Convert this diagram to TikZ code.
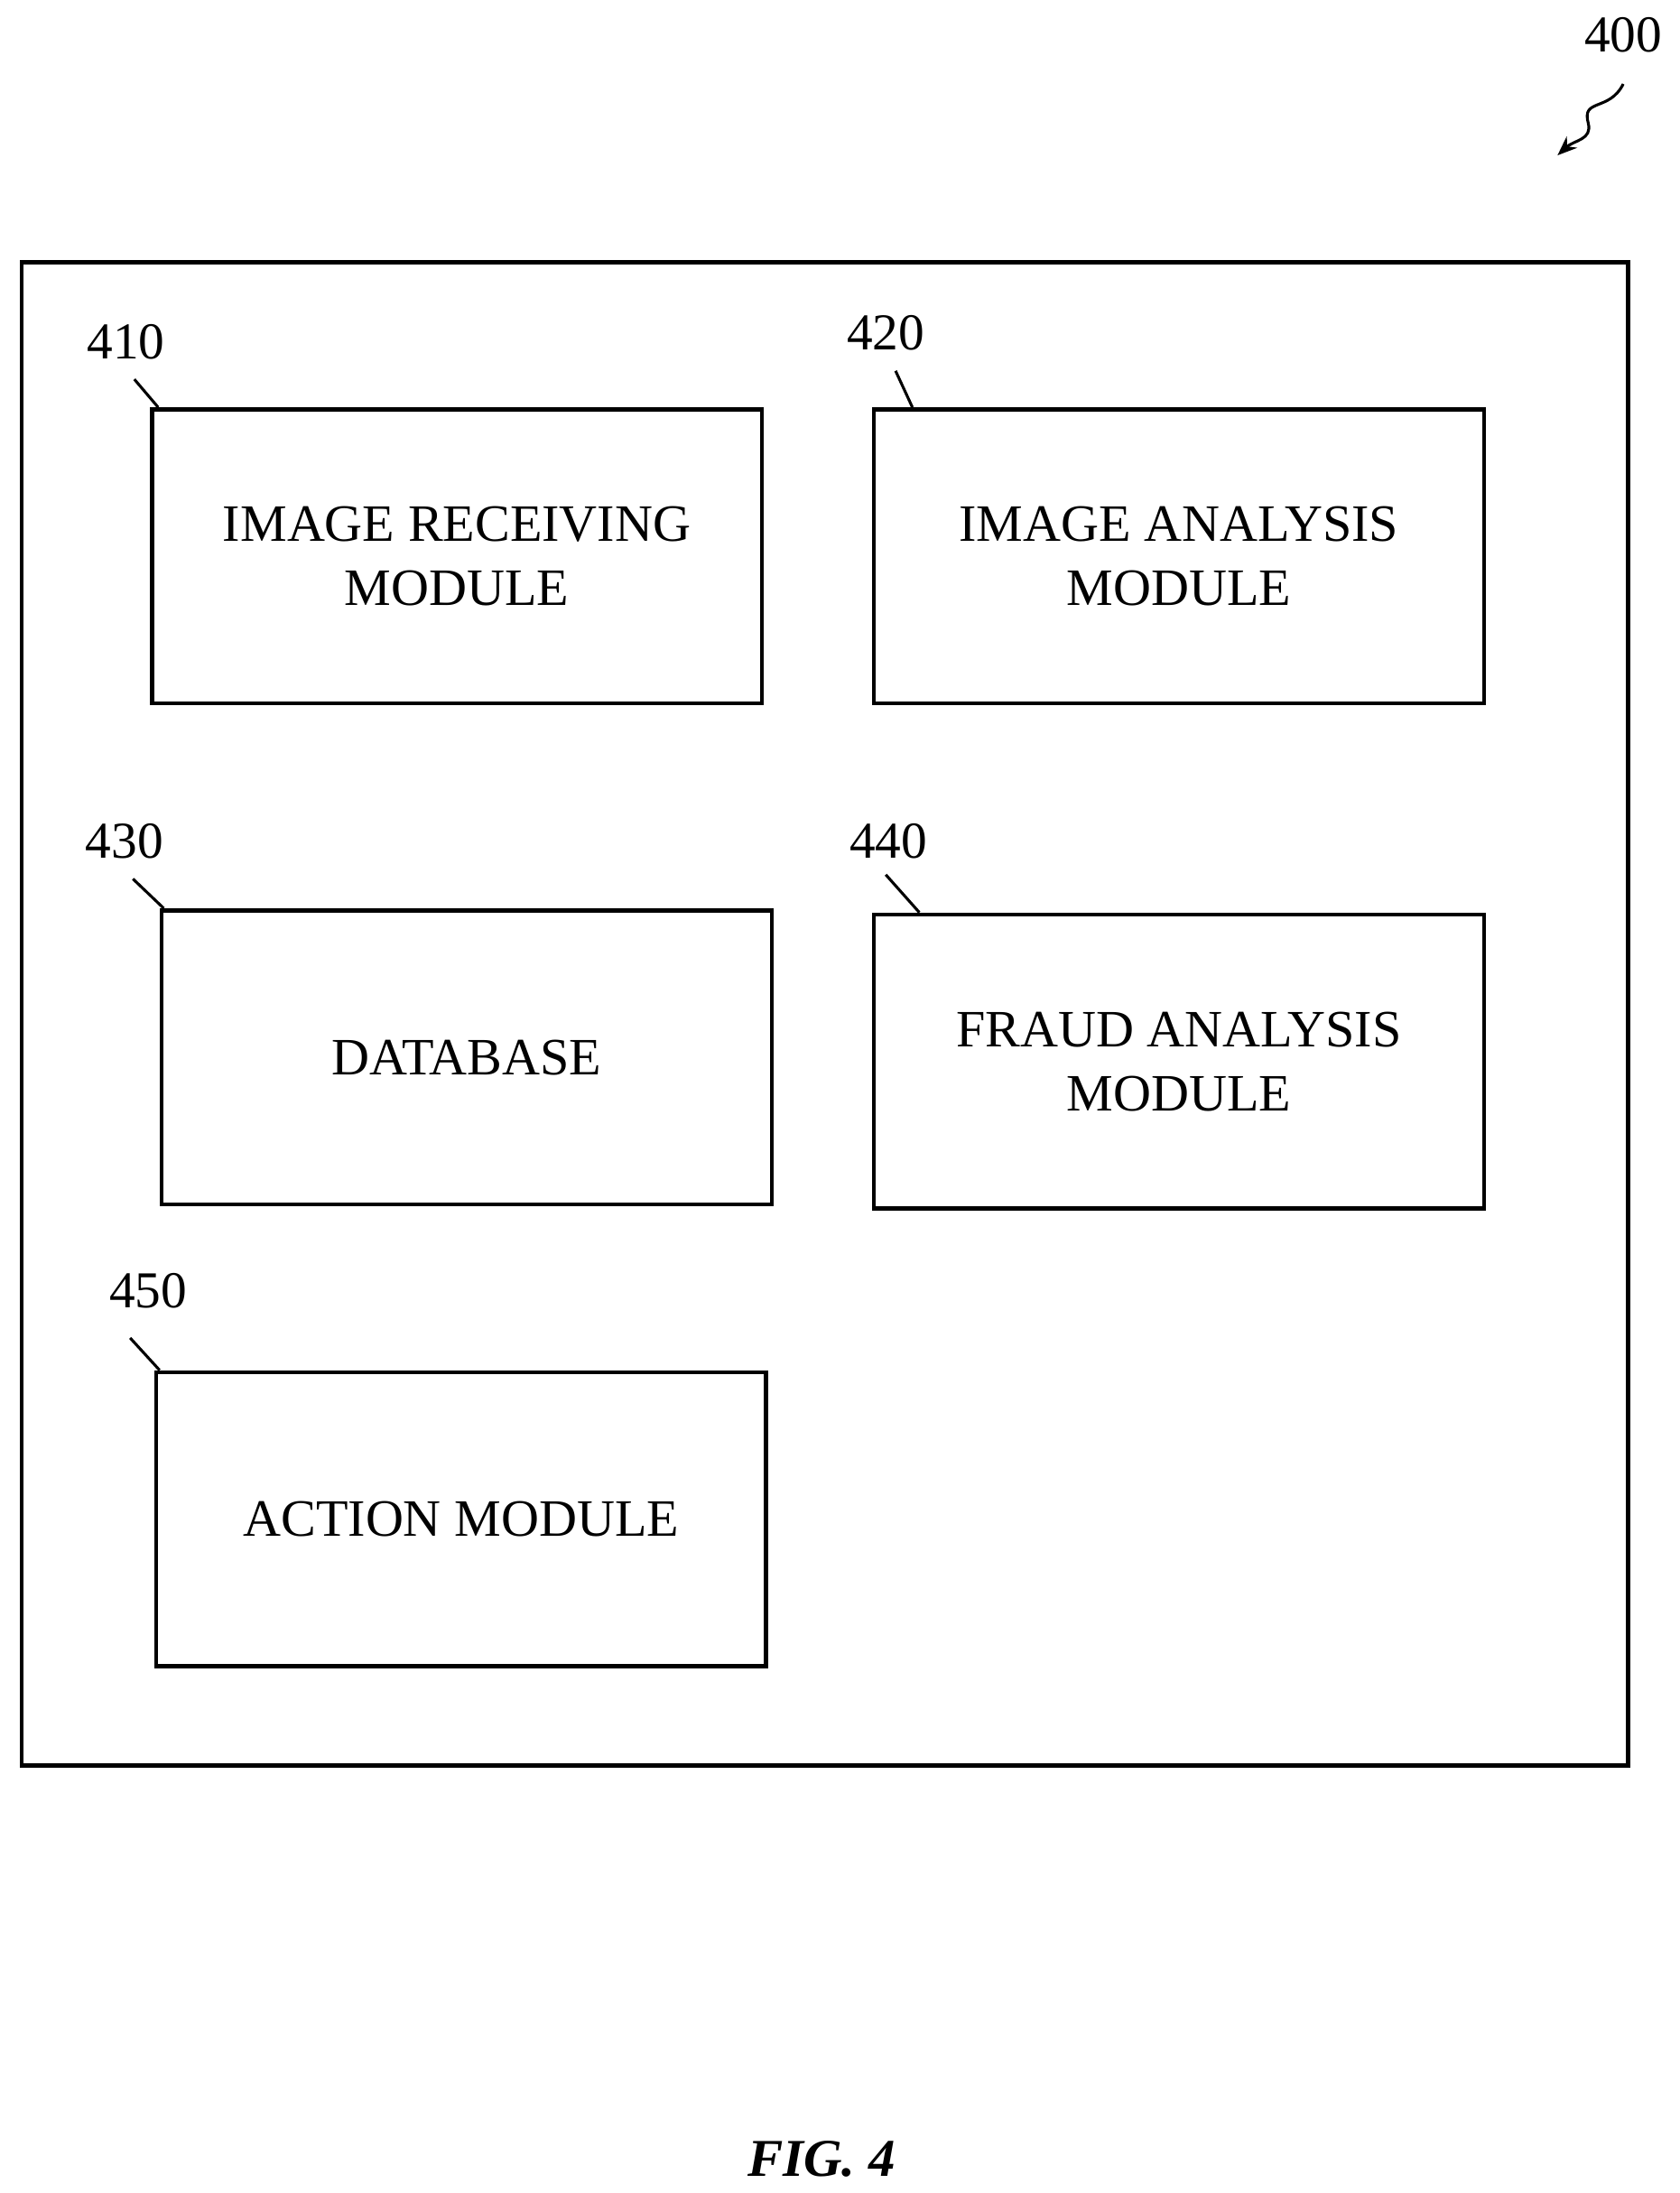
\documentclass[tikz,border=0pt]{standalone}
\usepackage{fontspec}
\setmainfont{Liberation Serif}
\usetikzlibrary{arrows.meta}
\begin{document}
\begin{tikzpicture}[x=1pt,y=-1pt,
  box/.style={draw,line width=3pt,align=center,font=\fontsize{37.5}{46}\selectfont},
  lab/.style={font=\fontsize{37}{40}\selectfont},
  tick/.style={line width=2pt}]
\useasboundingbox (0,0) rectangle (1200,1567);
\node[draw,line width=3pt,minimum width=1148pt,minimum height=1074pt,anchor=north west] (outer) at (14,186) {};
\node[box,minimum width=436pt,minimum height=210pt,anchor=north west] (b410) at (107,291) {IMAGE RECEIVING\\MODULE};
\node[box,minimum width=436pt,minimum height=210pt,anchor=north west] (b420) at (623,291) {IMAGE ANALYSIS\\MODULE};
\node[box,minimum width=436pt,minimum height=210pt,anchor=north west] (b430) at (114,649) {DATABASE};
\node[box,minimum width=436pt,minimum height=210pt,anchor=north west] (b440) at (623,652) {FRAUD ANALYSIS\\MODULE};
\node[box,minimum width=436pt,minimum height=210pt,anchor=north west] (b450) at (110,979) {ACTION MODULE};
\node[lab] (l410) at (90,244) {410};
\node[lab] (l420) at (633,238) {420};
\node[lab] (l430) at (89,601) {430};
\node[lab] (l440) at (635,601) {440};
\node[lab] (l450) at (106,922) {450};
\node[lab] (l400) at (1160,25) {400};
\coordinate (t410) at (96,271); \coordinate (c410) at (113,291);
\coordinate (t420) at (640,265); \coordinate (c420) at (652,291);
\coordinate (t430) at (95,628); \coordinate (c430) at (117,649);
\coordinate (t440) at (633,625); \coordinate (c440) at (657,652);
\coordinate (t450) at (93,956); \coordinate (c450) at (114,979);
\foreach \n in {410,420,430,440,450} \draw[tick] (t\n) -- (c\n);
\coordinate (s400) at (1160,60); \coordinate (e400) at (1113,111);
\draw[line width=2pt,-{Stealth[length=14pt,width=11pt]}] (s400) .. controls (1150,80) and (1130,70) .. (1135,88) .. controls (1138,100) and (1125,100) .. (e400);
\node[font=\fontsize{38}{42}\selectfont\bfseries\itshape] (fig) at (587,1543) {FIG. 4};
\end{tikzpicture}
\end{document}
